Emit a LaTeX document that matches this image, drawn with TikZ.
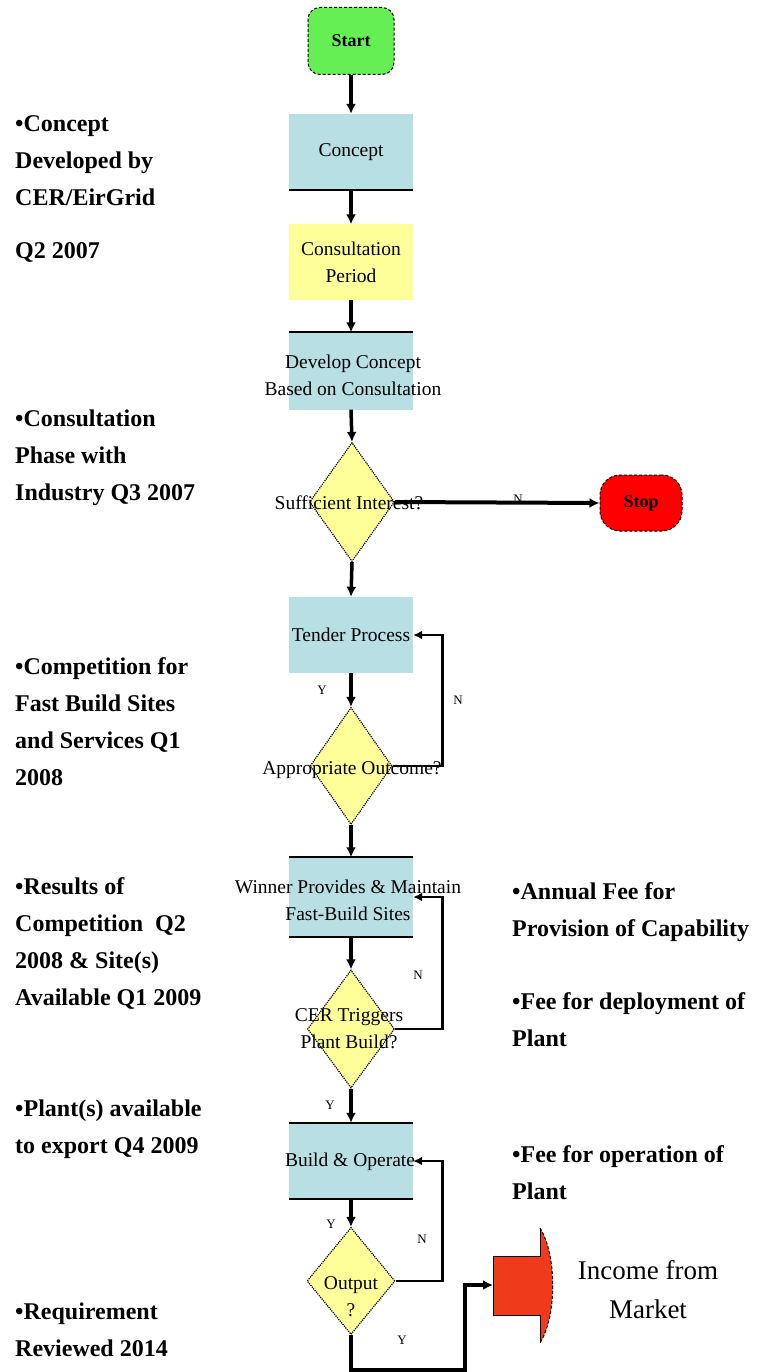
\documentclass[tikz,border=0pt]{standalone}
\usepackage{fontspec}
\setmainfont{Liberation Serif}
\usetikzlibrary{arrows.meta,shapes.geometric}
\definecolor{StartGreen}{RGB}{102,238,85}
\definecolor{StopRed}{RGB}{255,0,0}
\definecolor{BoxBlue}{RGB}{184,224,228}
\definecolor{PaleYellow}{RGB}{255,255,153}
\definecolor{IncomeRed}{RGB}{240,58,28}
\begin{document}
\begin{tikzpicture}[
  x=1pt,y=-1pt,
  font=\fontsize{19.5}{27}\selectfont,
  line/.style={line width=3.5pt,-{Latex[length=10pt,width=10pt]}},
  back line/.style={line width=2.8pt,-{Latex[length=9pt,width=9pt]}},
  box/.style={fill=BoxBlue,minimum width=124pt,minimum height=76pt,inner sep=0pt,align=center},
  terminal/.style={draw=black,densely dashed,line width=1pt,rounded corners=12pt,inner sep=0pt,font=\fontsize{18}{22}\selectfont\bfseries},
  decision/.style={diamond,draw=black,densely dotted,line width=1.2pt,fill=PaleYellow,inner sep=0pt},
  inner text/.style={align=center,inner sep=0pt},
  note/.style={anchor=north west,align=left,inner sep=0pt,font=\fontsize{24}{37}\selectfont\bfseries},
  yn/.style={inner sep=0pt,font=\fontsize{13}{13}\selectfont}
]
\useasboundingbox (0,0) rectangle (765,1372);
\node[terminal,fill=StartGreen,minimum width=86pt,minimum height=67pt] (start) at (351,41) {Start};
\node[box] (concept) at (351,152) {Concept};
\node[box,fill=PaleYellow,minimum height=75pt] (consult) at (351,262) {Consultation\\Period};
\node[box,minimum height=77pt] (develop) at (351,371) {};
\node[inner text] at (353,375) {Develop Concept\\Based on Consultation};
\node[decision,minimum width=85pt,minimum height=119pt] (interest) at (352,502) {};
\node[inner text] at (349,503) {Sufficient Interest?};
\node[terminal,fill=StopRed,rounded corners=20pt,minimum width=82pt,minimum height=56pt] (stop) at (641,503) {Stop};
\node[box] (tender) at (351,635) {Tender Process};
\node[decision,minimum width=82pt,minimum height=117pt] (outcome) at (351,766) {};
\node[inner text] at (352,770) {Appropriate Outcome?};
\node[box,minimum height=79pt] (winner) at (351,897) {};
\node[inner text] at (348,900) {Winner Provides \& Maintain\\Fast-Build Sites};
\node[decision,minimum width=87pt,minimum height=118pt] (trigger) at (351,1029) {};
\node[inner text] at (349,1029) {CER Triggers\\Plant Build?};
\node[box] (build) at (351,1161) {};
\node[inner text] at (350,1162) {Build \& Operate};
\node[decision,minimum width=88pt,minimum height=107pt] (output) at (351,1281) {};
\node[inner text] at (351,1297) {Output\\?};
\fill[IncomeRed] (493,1256) -- (540,1256) -- (540,1228) .. controls (557,1255) and (557,1316) .. (540,1343) -- (540,1315) -- (493,1315) -- cycle;
\draw[line width=1pt] (540,1228) -- (540,1256) -- (493,1256) -- (493,1315) -- (540,1315) -- (540,1343);
\draw[line width=1pt,densely dashed] (540,1228) .. controls (557,1255) and (557,1316) .. (540,1343);
\coordinate (income) at (493,1285);
\coordinate (turn) at (465,1370);
\node[inner text,font=\fontsize{27}{39}\selectfont] (market) at (648,1290) {Income from\\Market};
\node[note] (conceptnote) at (15,115) {•Concept\\Developed by\\CER/EirGrid\\[16pt]Q2 2007};
\node[note] (consultnote) at (15,410) {•Consultation\\Phase with\\Industry Q3 2007};
\node[note] (competitionnote) at (15,657) {•Competition for\\Fast Build Sites\\and Services Q1\\2008};
\node[note] (resultsnote) at (15,877) {•Results of\\Competition~~Q2\\2008 \& Site(s)\\Available Q1 2009};
\node[note] (plantnote) at (15,1100) {•Plant(s) available\\to export Q4 2009};
\node[note] (reviewnote) at (15,1303) {•Requirement\\Reviewed 2014};
\node[note] (annualnote) at (512,882) {•Annual Fee for\\Provision of Capability};
\node[note] (deploynote) at (512,992) {•Fee for deployment of\\Plant};
\node[note] (operatenote) at (512,1145) {•Fee for operation of\\Plant};
\node[yn] at (518,499) {N};
\node[yn] at (322,690) {Y};
\node[yn] at (458,700) {N};
\node[yn] at (418,975) {N};
\node[yn] at (330,1105) {Y};
\node[yn] at (331,1224) {Y};
\node[yn] at (422,1239) {N};
\node[yn] at (402,1340) {Y};
\foreach \edge in {concept.south,develop.north,winner.north,winner.south,build.north,build.south}
  \draw[line width=2pt] ([xshift=-62pt]\edge) -- ([xshift=62pt]\edge);
\draw[line] (start.south) -- (concept.north);
\draw[line] (concept.south) -- (consult.north);
\draw[line] (consult.south) -- (develop.north);
\draw[line] (develop.south) -- (interest.north);
\draw[line,line width=4pt] (interest.east) -- (stop.west);
\draw[line] (interest.south) -- (tender.north);
\draw[line] (tender.south) -- (outcome.north);
\draw[back line] (outcome.east) -| ([xshift=29pt]tender.east) -- (tender.east);
\draw[line] (outcome.south) -- (winner.north);
\draw[line] (winner.south) -- (trigger.north);
\draw[back line] (trigger.east) -| ([xshift=29pt]winner.east) -- (winner.east);
\draw[line] (trigger.south) -- (build.north);
\draw[line] (build.south) -- (output.north);
\draw[back line] (output.east) -| ([xshift=29pt]build.east) -- (build.east);
\draw[line] (output.south) |- (turn) |- (income);
\end{tikzpicture}
\end{document}
